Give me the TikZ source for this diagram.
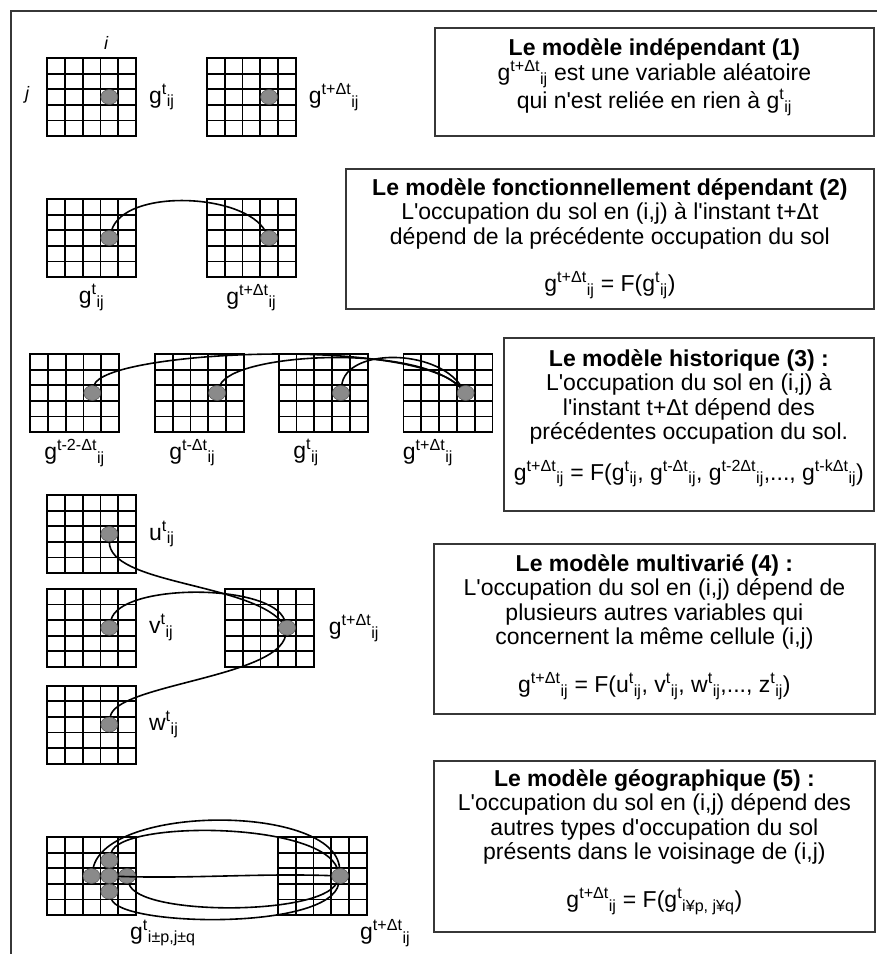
\documentclass[tikz,border=0pt]{standalone}
\usepackage{fontspec}
\setmainfont{Liberation Sans}[Ligatures=TeXOff]
\usepackage{tikz}
\usetikzlibrary{positioning,shapes.geometric}
\definecolor{grispast}{RGB}{138,138,138}
\definecolor{bord}{RGB}{55,55,55}
\newcommand{\vx}[3]{#1\textsuperscript{#2}\textsubscript{#3}}
\tikzset{
  grille/.style={rectangle, draw=black, line width=1.8pt, inner sep=0pt,
                 minimum width=89pt, minimum height=78pt,
                 path picture={
                   \foreach \k in {1,...,4} {
                     \draw[line width=1.8pt] ([xshift=\k*17.8pt-44.5pt, yshift=39pt]path picture bounding box.center) -- ++(0pt,-78pt);
                     \draw[line width=1.8pt] ([xshift=-44.5pt, yshift=39pt-\k*15.6pt]path picture bounding box.center) -- ++(89pt,0pt);
                   }}},
  pastille/.style={ellipse, fill=grispast, draw=grispast!60!black, line width=0.5pt,
                   minimum width=17pt, minimum height=15pt, inner sep=0pt},
  lien/.style={line width=1.6pt, draw=black},
  etiq/.style={inner sep=0pt, font=\fontsize{23}{24}\selectfont},
  cadre/.style={rectangle, draw=bord, line width=1.8pt, inner sep=0pt, anchor=north west},
  texte/.style={align=center, inner sep=0pt, font=\fontsize{23}{24.5}\selectfont},
}

\begin{document}
\begin{tikzpicture}[x=1pt, y=-1pt]
  \useasboundingbox (0,0) rectangle (877,954);
  \draw[bord, line width=1.4pt] (11,954) -- (11,11) -- (877,11);

  % (1) independant
  \node[grille] (g1a) at (91.5,97) {};
  \node[grille, right=69pt of g1a] (g1b) {};
  \node[pastille] (p1a) at ([xshift=17.8pt]g1a.center) {};
  \node[pastille] (p1b) at ([xshift=17.8pt]g1b.center) {};
  \node[etiq, right=12pt of g1a] (l1a) {\vx{g}{t}{ij}};
  \node[etiq, right=12pt of g1b] (l1b) {\vx{g}{t+Δt}{ij}};
  \node[etiq, font=\fontsize{18}{20}\selectfont\itshape] (li) at (106,43) {i};
  \node[etiq, font=\fontsize{18}{20}\selectfont\itshape] (lj) at (27,95) {j};

  % (2) fonctionnellement dependant
  \node[grille] (g2a) at (91.5,238) {};
  \node[grille, right=69pt of g2a] (g2b) {};
  \node[pastille] (p2a) at ([xshift=17.8pt]g2a.center) {};
  \node[pastille] (p2b) at ([xshift=17.8pt]g2b.center) {};
  \node[etiq, below=6pt of g2a] (l2a) {\vx{g}{t}{ij}};
  \node[etiq, below=6pt of g2b] (l2b) {\vx{g}{t+Δt}{ij}};
  \draw[lien] (p2a) .. controls +(15,-50) and +(-25,-45) .. (p2b);

  % (3) historique
  \node[grille] (g3a) at (74.5,393) {};
  \node[grille, right=34pt of g3a] (g3b) {};
  \node[grille, right=33pt of g3b] (g3c) {};
  \node[grille, right=34pt of g3c] (g3d) {};
  \node[pastille] (p3a) at ([xshift=17.8pt]g3a.center) {};
  \node[pastille] (p3b) at ([xshift=17.8pt]g3b.center) {};
  \node[pastille] (p3c) at ([xshift=17.8pt]g3c.center) {};
  \node[pastille] (p3d) at ([xshift=17.8pt]g3d.center) {};
  \node[etiq, below=6pt of g3a] (l3a) {\vx{g}{t-2-Δt}{ij}};
  \node[etiq, below=6pt of g3b, xshift=-7pt] (l3b) {\vx{g}{t-Δt}{ij}};
  \node[etiq, below=6pt of g3c, xshift=-17pt] (l3c) {\vx{g}{t}{ij}};
  \node[etiq, below=6pt of g3d, xshift=-20pt] (l3d) {\vx{g}{t+Δt}{ij}};
  \draw[lien] (p3a) .. controls +(10,-42) and +(-55,-57) .. (p3d);
  \draw[lien] (p3b) .. controls +(15,-40) and +(-50,-50) .. (p3d);
  \draw[lien] (p3c) .. controls +(5,-45) and +(-30,-45) .. (p3d);

  % (4) multivarie
  \node[grille] (g4u) at (91.5,534) {};
  \node[grille, below=14pt of g4u] (g4v) {};
  \node[grille, below=17pt of g4v] (g4w) {};
  \node[grille, right=87pt of g4v] (g4g) {};
  \node[pastille] (p4u) at ([xshift=17.8pt]g4u.center) {};
  \node[pastille] (p4v) at ([xshift=17.8pt]g4v.center) {};
  \node[pastille] (p4w) at ([xshift=17.8pt]g4w.center) {};
  \node[pastille] (p4g) at ([xshift=17.8pt]g4g.center) {};
  \node[etiq, right=12pt of g4u] (l4u) {\vx{u}{t}{ij}};
  \node[etiq, right=12pt of g4v] (l4v) {\vx{v}{t}{ij}};
  \node[etiq, right=12pt of g4w] (l4w) {\vx{w}{t}{ij}};
  \node[etiq, right=14pt of g4g] (l4g) {\vx{g}{t+Δt}{ij}};
  \draw[lien] (p4u) .. controls +(0,50) and +(-40,-45) .. (p4g);
  \draw[lien] (p4v) .. controls +(10,-45) and +(-15,-45) .. (p4g);
  \draw[lien] (p4w) .. controls +(5,-40) and +(-10,50) .. (p4g);

  % (5) geographique
  \node[grille] (g5a) at (91.5,876) {};
  \node[grille, right=140pt of g5a] (g5b) {};
  \node[pastille] (p5g) at (g5a.center) {};
  \node[pastille] (p5h) at ([xshift=17.8pt, yshift=15.6pt]g5a.center) {};
  \node[pastille] (p5s) at ([xshift=17.8pt, yshift=-15.6pt]g5a.center) {};
  \node[pastille] (p5d) at ([xshift=35.6pt]g5a.center) {};
  \node[pastille] (p5m) at ([xshift=17.8pt]g5a.center) {};
  \node[pastille] (p5t) at ([xshift=17.8pt]g5b.center) {};
  \node[etiq, anchor=west] (l5a) at (130,933) {\vx{g}{t}{i±p,j±q}};
  \node[etiq, anchor=west] (l5b) at (360,933) {\vx{g}{t+Δt}{ij}};
  \draw[lien] (p5g) .. controls +(15,-72) and +(-5,-72) .. (p5t);
  \draw[lien] (p5h) .. controls +(10,-40) and +(-20,-55) .. (p5t);
  \draw[lien] (p5m) .. controls +(80,3) and +(-80,-3) .. (p5t);
  \draw[lien] (p5d) .. controls +(10,40) and +(-20,40) .. (p5t);
  \draw[lien] (p5s) .. controls +(10,35) and +(-10,55) .. (p5t);

  % encadres
  \node[cadre, minimum width=439pt, minimum height=108pt] (m1) at (434,27) {};
  \node[texte, below=11pt of m1.north] (t1) {\textbf{Le modèle indépendant (1)}\\
    \vx{g}{t+Δt}{ij} est une variable aléatoire\\
    qui n'est reliée en rien à \vx{g}{t}{ij}};
  \node[cadre, minimum width=528pt, minimum height=140pt] (m2) at (345,168) {};
  \node[texte, below=10pt of m2.north] (t2) {\textbf{Le modèle fonctionnellement dépendant (2)}\\
    L'occupation du sol en (i,j) à l'instant t+Δt\\
    dépend de la précédente occupation du sol\\[22pt]
    \vx{g}{t+Δt}{ij} = F(\vx{g}{t}{ij})};
  \node[cadre, minimum width=370pt, minimum height=173pt] (m3) at (503,337) {};
  \node[texte, below=12pt of m3.north] (t3) {\textbf{Le modèle historique (3) :}\\
    L'occupation du sol en (i,j) à\\
    l'instant t+Δt dépend des\\
    précédentes occupation du sol.\\[14pt]
    \vx{g}{t+Δt}{ij} = F(\vx{g}{t}{ij}, \vx{g}{t-Δt}{ij}, \vx{g}{t-2Δt}{ij},..., \vx{g}{t-kΔt}{ij})};
  \node[cadre, minimum width=441pt, minimum height=170pt] (m4) at (433,543) {};
  \node[texte, below=11pt of m4.north] (t4) {\textbf{Le modèle multivarié (4) :}\\
    L'occupation du sol en (i,j) dépend de\\
    plusieurs autres variables qui\\
    concernent la même cellule (i,j)\\[22pt]
    \vx{g}{t+Δt}{ij} = F(\vx{u}{t}{ij}, \vx{v}{t}{ij}, \vx{w}{t}{ij},..., \vx{z}{t}{ij})};
  \node[cadre, minimum width=441pt, minimum height=171pt] (m5) at (433,760) {};
  \node[texte, below=9pt of m5.north] (t5) {\textbf{Le modèle géographique (5) :}\\
    L'occupation du sol en (i,j) dépend des\\
    autres types d'occupation du sol\\
    présents dans le voisinage de (i,j)\\[22pt]
    \vx{g}{t+Δt}{ij} = F(\vx{g}{t}{i¥p, j¥q})};
\end{tikzpicture}
\end{document}
